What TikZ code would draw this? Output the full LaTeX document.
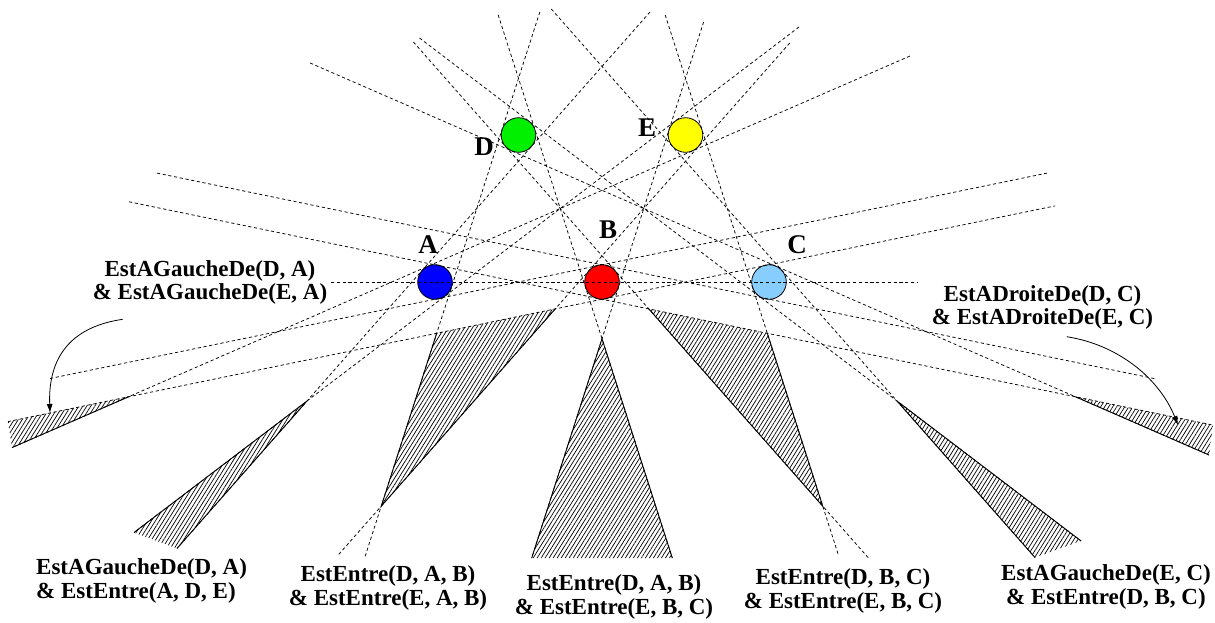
\documentclass[tikz,border=0pt]{standalone}
\usepackage{fontspec}
\setmainfont{Liberation Serif}
\usetikzlibrary{arrows.meta,patterns.meta}
\definecolor{cA}{RGB}{0,0,255}
\definecolor{cB}{RGB}{255,0,0}
\definecolor{cC}{RGB}{135,206,255}
\definecolor{cD}{RGB}{0,240,0}
\definecolor{cE}{RGB}{255,255,0}
\begin{document}
\begin{tikzpicture}[x=1pt,y=-1pt,
  dline/.style={line width=0.75pt, dash pattern=on 3.2pt off 2.6pt},
  sline/.style={line width=0.9pt},
  hatch/.style={pattern={Lines[angle=58,distance=3.4pt,line width=0.7pt]}, pattern color=black},
  ball/.style={circle, draw, line width=0.8pt, minimum size=34.6pt, inner sep=0pt},
  plabel/.style={font=\fontsize{27}{27}\selectfont\bfseries, inner sep=0pt},
  lbl/.style={font=\fontsize{23}{23.5}\selectfont\bfseries, align=center, inner sep=0pt},
  callout/.style={line width=0.8pt, -{Latex[length=9pt,width=6pt]}}
]
\useasboundingbox (0,0) rectangle (1215,622);

% line end points
\coordinate (L1t) at (539.8,12);   \coordinate (L1b) at (364.6,558);
\coordinate (L2t) at (650,12);     \coordinate (L2b) at (177,548.4);
\coordinate (L3t) at (703.6,22);   \coordinate (L3b) at (531.7,558);
\coordinate (L4t) at (789.7,43);   \coordinate (L4b) at (338.2,555);
\coordinate (L5t) at (799,27);     \coordinate (L5b) at (134,532.5);
\coordinate (L6t) at (910,56);     \coordinate (L6b) at (12,447.6);
\coordinate (R1t) at (498.2,15);   \coordinate (R1b) at (672.3,558);
\coordinate (R2t) at (413.4,42);   \coordinate (R2b) at (868.5,558);
\coordinate (R3t) at (665.2,15);   \coordinate (R3b) at (838.4,555);
\coordinate (R4t) at (551.3,9);    \coordinate (R4b) at (1035,557.5);
\coordinate (R5t) at (419.5,38);   \coordinate (R5b) at (1081,540.9);
\coordinate (R6t) at (310.1,63);   \coordinate (R6b) at (1209,455.0);
\coordinate (H1l) at (129,201.8);  \coordinate (H1r) at (1213,425.1);
\coordinate (H2l) at (50,378.5);   \coordinate (H2r) at (1047,173.1);
\coordinate (H3l) at (157,173.1);  \coordinate (H3r) at (1155,378.7);
\coordinate (H4l) at (8,421.6);    \coordinate (H4r) at (1055,205.9);
\coordinate (H0l) at (331,282);    \coordinate (H0r) at (917,282);
% region vertices
\coordinate (V1) at (128.7,396.7);
\coordinate (V2) at (306.9,401.1);
\coordinate (V3a) at (436.7,333.2);
\coordinate (V3b) at (555.3,308.8);
\coordinate (V3c) at (381.3,506.1);
\coordinate (V4) at (602,338.7);
\coordinate (V5a) at (767.3,333.2);
\coordinate (V5b) at (648.7,308.8);
\coordinate (V5c) at (822.7,506.1);
\coordinate (V6) at (897.1,401.1);
\coordinate (V7) at (1075.3,396.7);

% hatched regions
\fill[hatch] (V1) -- (H4l) -- (L6b) -- cycle;
\fill[hatch] (V2) -- (L5b) -- (L2b) -- cycle;
\fill[hatch] (V3a) -- (V3b) -- (V3c) -- cycle;
\fill[hatch] (V4) -- (L3b) -- (R1b) -- cycle;
\fill[hatch] (V5b) -- (V5a) -- (V5c) -- cycle;
\fill[hatch] (V6) -- (R4b) -- (R5b) -- cycle;
\fill[hatch] (V7) -- (H1r) -- (R6b) -- cycle;

% circles
\node[ball, fill=cA] (A) at (435,282) {};
\node[ball, fill=cB] (B) at (602,282) {};
\node[ball, fill=cC] (C) at (769,282) {};
\node[ball, fill=cD] (D) at (518.5,135) {};
\node[ball, fill=cE] (E) at (685.5,135) {};

% dashed tangent lines
\draw[dline] (L1t) -- (L1b);
\draw[dline] (L2t) -- (L2b);
\draw[dline] (L3t) -- (L3b);
\draw[dline] (L4t) -- (L4b);
\draw[dline] (L5t) -- (L5b);
\draw[dline] (L6t) -- (L6b);
\draw[dline] (R1t) -- (R1b);
\draw[dline] (R2t) -- (R2b);
\draw[dline] (R3t) -- (R3b);
\draw[dline] (R4t) -- (R4b);
\draw[dline] (R5t) -- (R5b);
\draw[dline] (R6t) -- (R6b);
\draw[dline] (H1l) -- (H1r);
\draw[dline] (H2l) -- (H2r);
\draw[dline] (H3l) -- (H3r);
\draw[dline] (H4l) -- (H4r);
\draw[dline] (H0l) -- (H0r);

% solid region borders
\draw[sline] (V1) -- (L6b);
\draw[sline] (L5b) -- (V2) -- (L2b);
\draw[sline] (V3a) -- (V3c) -- (V3b);
\draw[sline] (L3b) -- (V4) -- (R1b);
\draw[sline] (V5b) -- (V5c) -- (V5a);
\draw[sline] (R4b) -- (V6) -- (R5b);
\draw[sline] (V7) -- (R6b);

% point labels
\node[plabel] (lA) at (428,245) {A};
\node[plabel] (lB) at (608,230) {B};
\node[plabel] (lC) at (797,245) {C};
\node[plabel] (lD) at (484,147) {D};
\node[plabel] (lE) at (647,128) {E};

% region labels
\node[lbl] (t1) at (210,282.5) {EstAGaucheDe(D, A)\\\& EstAGaucheDe(E, A)};
\node[lbl] (t2) at (1042.5,307.5) {EstADroiteDe(D, C)\\\& EstADroiteDe(E, C)};
\node[lbl, align=left, anchor=west] (t3) at (36,581) {EstAGaucheDe(D, A)\\\& EstEntre(A, D, E)};
\node[lbl] (t4) at (388,588) {EstEntre(D, A, B)\\\& EstEntre(E, A, B)};
\node[lbl] (t5) at (614,597) {EstEntre(D, A, B)\\\& EstEntre(E, B, C)};
\node[lbl] (t6) at (843,591) {EstEntre(D, B, C)\\\& EstEntre(E, B, C)};
\node[lbl] (t7) at (1106,587) {EstAGaucheDe(E, C)\\\& EstEntre(D, B, C)};

% callout arrows
\coordinate (a1s) at (122.7,319.3); \coordinate (a1e) at (50,413);
\draw[callout] (a1s) .. controls (70,327) and (48,358) .. (a1e);
\coordinate (a2s) at (1066.7,336.7); \coordinate (a2e) at (1178,425);
\draw[callout] (a2s) .. controls (1120,345) and (1160,380) .. (a2e);
\end{tikzpicture}
\end{document}
